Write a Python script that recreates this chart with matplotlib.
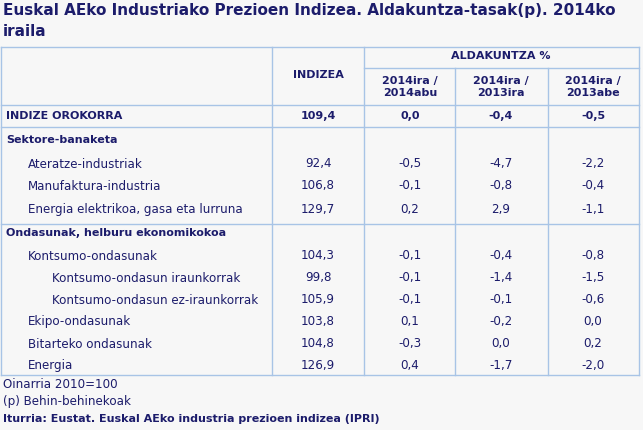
import matplotlib
matplotlib.use("Agg")
import matplotlib.pyplot as plt

labels = ["INDIZE OROKORRA", "Sektore-banaketa", "Ateratze-industriak", "Manufaktura-industria",
          "Energia elektrikoa, gasa eta lurruna", "Ondasunak, helburu ekonomikokoa", "Kontsumo-ondasunak",
          "Kontsumo-ondasun iraunkorrak", "Kontsumo-ondasun ez-iraunkorrak", "Ekipo-ondasunak",
          "Bitarteko ondasunak", "Energia"]
levels = [0, 0, 1, 1, 1, 0, 1, 2, 2, 1, 1, 1]
indizea = ["109,4", "", "92,4", "106,8", "129,7", "", "104,3", "99,8", "105,9", "103,8", "104,8", "126,9"]
c1 = ["0,0", "", "-0,5", "-0,1", "0,2", "", "-0,1", "-0,1", "-0,1", "0,1", "-0,3", "0,4"]
c2 = ["-0,4", "", "-4,7", "-0,8", "2,9", "", "-0,4", "-1,4", "-0,1", "-0,2", "0,0", "-1,7"]
c3 = ["-0,5", "", "-2,2", "-0,4", "-1,1", "", "-0,8", "-1,5", "-0,6", "0,0", "0,2", "-2,0"]
col_heads = ["2014ira /\n2014abu", "2014ira /\n2013ira", "2014ira /\n2013abe"]

bg = "#f7f7f7"; line = "#a8c4e6"; txt = "#1c1c6b"
fig = plt.figure(figsize=(6.43, 4.30), dpi=100, facecolor=bg)
ax = fig.add_axes([0, 0, 1, 1]); ax.set_xlim(0, 643); ax.set_ylim(430, 0); ax.axis("off")
fs = 8.6
fb = 8.0
ax.text(3, 11, "Euskal AEko Industriako Prezioen Indizea. Aldakuntza-tasak(p). 2014ko", fontsize=11, weight="bold", color=txt, va="center")
ax.text(3, 31, "iraila", fontsize=11, weight="bold", color=txt, va="center")

L, R, T, B = 1, 639, 47, 375
kw = dict(color=line, lw=1)
for y in [T, 105, 127, 224, B]:
    ax.plot([L, R], [y, y], **kw)
ax.plot([364, R], [68, 68], **kw)
for x in [L, 272, 364, R]:
    ax.plot([x, x], [T, B], **kw)
for x in [455, 548]:
    ax.plot([x, x], [68, B], **kw)

ax.text(318, 75, "INDIZEA", fontsize=fb, weight="bold", color=txt, ha="center", va="center")
ax.text(501, 56, "ALDAKUNTZA %", fontsize=fb, weight="bold", color=txt, ha="center", va="center")
for x, h in zip([410, 501, 593], col_heads):
    ax.text(x, 87, h, fontsize=fb, weight="bold", color=txt, ha="center", va="center", linespacing=1.25)

ys = [116, 140, 164, 186, 209, 233, 256, 278, 300, 322, 344, 366]
indent = {0: 6, 1: 28, 2: 52}
for i, y in enumerate(ys):
    bold = levels[i] == 0
    ax.text(indent[levels[i]], y, labels[i], fontsize=fb if bold else fs,
            weight="bold" if bold else "normal", color=txt, va="center")
    for x, v in zip([318, 410, 501, 593], [indizea[i], c1[i], c2[i], c3[i]]):
        ax.text(x, y, v, fontsize=fb if i == 0 else fs, weight="bold" if i == 0 else "normal",
                color=txt, ha="center", va="center")

ax.text(3, 384, "Oinarria 2010=100", fontsize=fs, color=txt, va="center")
ax.text(3, 401, "(p) Behin-behinekoak", fontsize=fs, color=txt, va="center")
ax.text(3, 419, "Iturria: Eustat. Euskal AEko industria prezioen indizea (IPRI)", fontsize=fb, weight="bold", color=txt, va="center")
fig.savefig("out.png", dpi=100, facecolor=bg)
